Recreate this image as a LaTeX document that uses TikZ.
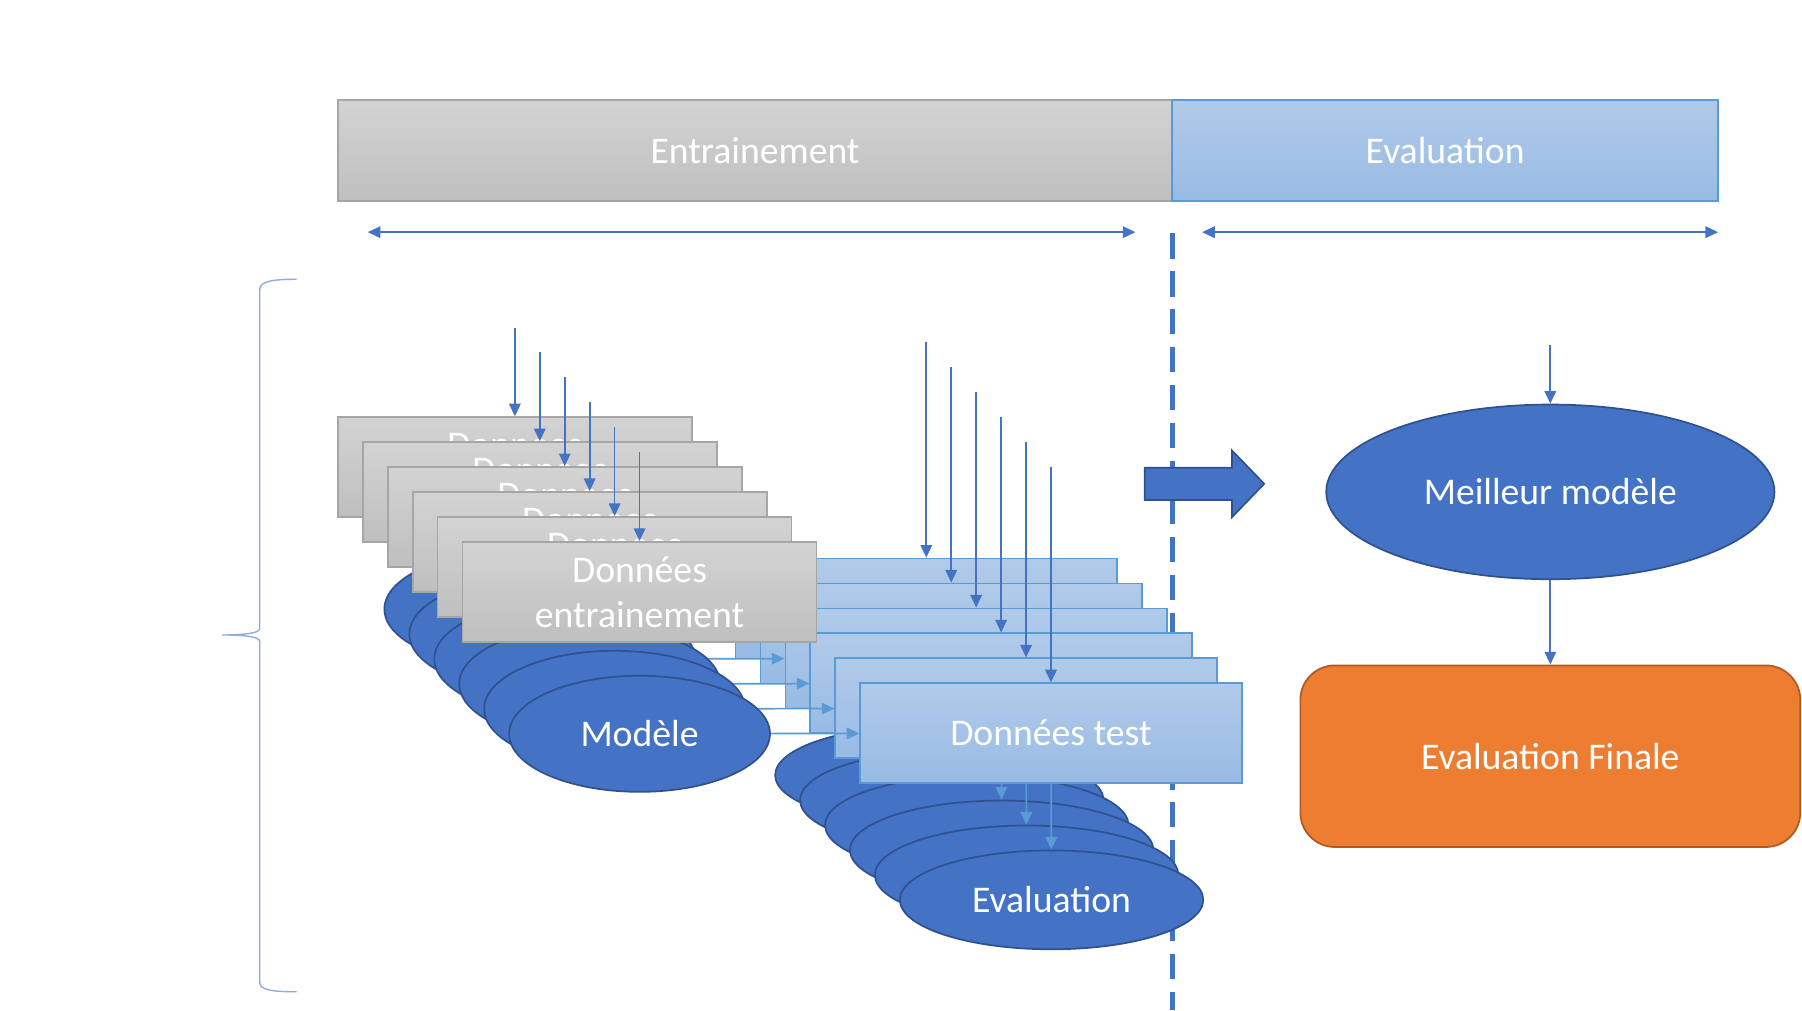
\documentclass[tikz,border=0pt]{standalone}
\usepackage{fontspec}
\setmainfont{Carlito}
\usetikzlibrary{positioning,arrows.meta,shapes.geometric}
\definecolor{boxblue}{HTML}{4472C4}
\definecolor{boxedge}{HTML}{2F528F}
\definecolor{lineblue}{HTML}{5B9BD5}
\definecolor{bracecol}{HTML}{8FAADC}
\definecolor{testtop}{HTML}{B1CAE9}
\definecolor{testbot}{HTML}{98BBE4}
\definecolor{traintop}{HTML}{D3D3D3}
\definecolor{trainbot}{HTML}{BFBFBF}
\definecolor{trainedge}{HTML}{A6A6A6}
\definecolor{finalfill}{HTML}{ED7D31}
\definecolor{finaledge}{HTML}{AE5A21}
\begin{document}
\begin{tikzpicture}[x=0.5pt, y=-0.5pt, on grid, node distance=15.344pt, line width=0.75pt,
    wtext/.style = {text=white, font=\fontsize{16.4}{19.5}\selectfont, align=center, inner sep=0pt},
    trainbox/.style = {wtext, draw=trainedge, top color=traintop, bottom color=trainbot, minimum width=154pt, minimum height=43.5pt},
    testbox/.style = {wtext, draw=lineblue, top color=testtop, bottom color=testbot, minimum width=166pt, minimum height=43.5pt},
    blob/.style = {wtext, ellipse, draw=boxedge, fill=boxblue},
    model/.style = {blob, minimum width=113.5pt, minimum height=50.5pt},
    scored/.style = {blob, minimum width=132pt, minimum height=43pt},
    feed/.style = {draw=boxblue, -{Triangle[width=5pt,length=5.5pt]}},
    pass/.style = {draw=lineblue, -{Triangle[width=5pt,length=5.5pt]}},
    spanarrow/.style = {draw=boxblue, {Triangle[width=5pt,length=5.5pt]}-{Triangle[width=5pt,length=5.5pt]}},
    split/.style = {draw=boxblue, line width=2pt, dash pattern=on 11pt off 5.5pt},
    curly/.style = {draw=bracecol, line width=0.6pt}]
    \path[use as bounding box, fill=white] (0,0) rectangle (1568,879);
    % phases
    \node[trainbox, minimum width=363pt, minimum height=44pt] (train) at (657,131) {Entrainement};
    \node[testbox, minimum width=237.5pt, minimum height=44pt] (evalp) [right=300.25pt of train] {Evaluation};
    \coordinate (s1) at (320,202);
    \coordinate (s2) at (988,202);
    \coordinate (s3) at (1046,202);
    \coordinate (s4) at (1495,202);
    \coordinate (cut1) at (1020,203);
    \coordinate (cut2) at (1020,879);
    \coordinate (br1) at (258,243);
    \coordinate (br2) at (258,863);
    \draw[spanarrow] (s1) -- (s2);
    \draw[spanarrow] (s3) -- (s4);
    \draw[split] (cut1) -- (cut2);
    \draw[curly] (br1) .. controls (236,243) and (226,245) .. (226,252) -- (226,547)
        .. controls (226,551) and (212,552.5) .. (193,552.5)
        .. controls (212,552.5) and (226,554) .. (226,558) -- (226,855)
        .. controls (226,861) and (236,863) .. (br2);
    % stack 1
    \node[model] (m1) at (448,530) {Modèle};
    \node[scored] (e1) at (806.5,674.5) {Evaluation};
    \node[testbox] (t1) at (806,529.5) {Données test};
    \node[trainbox] (d1) at (448,406.5) {Données\\entrainement};
    \coordinate (a1) at (448,285);
    \coordinate (b1) at (806,298);
    \path (a1) edge[feed] (d1) (b1) edge[feed] (t1);
    \path (m1) edge[pass] (t1) (t1) edge[pass] (e1);
    % stack 2
    \node[model] (m2) [below right=of m1] {Modèle};
    \node[scored] (e2) [below right=of e1] {Evaluation};
    \node[testbox] (t2) [below right=of t1] {Données test};
    \node[trainbox] (d2) [below right=of d1] {Données\\entrainement};
    \coordinate[below right=of a1] (a2);
    \coordinate[below right=of b1] (b2);
    \path (a2) edge[feed] (d2) (b2) edge[feed] (t2);
    \path (m2) edge[pass] (t2) (t2) edge[pass] (e2);
    % stack 3
    \node[model] (m3) [below right=of m2] {Modèle};
    \node[scored] (e3) [below right=of e2] {Evaluation};
    \node[testbox] (t3) [below right=of t2] {Données test};
    \node[trainbox] (d3) [below right=of d2] {Données\\entrainement};
    \coordinate[below right=of a2] (a3);
    \coordinate[below right=of b2] (b3);
    \path (a3) edge[feed] (d3) (b3) edge[feed] (t3);
    \path (m3) edge[pass] (t3) (t3) edge[pass] (e3);
    % stack 4
    \node[model] (m4) [below right=of m3] {Modèle};
    \node[scored] (e4) [below right=of e3] {Evaluation};
    \node[testbox] (t4) [below right=of t3] {Données test};
    \node[trainbox] (d4) [below right=of d3] {Données\\entrainement};
    \coordinate[below right=of a3] (a4);
    \coordinate[below right=of b3] (b4);
    \path (a4) edge[feed] (d4) (b4) edge[feed] (t4);
    \path (m4) edge[pass] (t4) (t4) edge[pass] (e4);
    % stack 5
    \node[model] (m5) [below right=of m4] {Modèle};
    \node[scored] (e5) [below right=of e4] {Evaluation};
    \node[testbox] (t5) [below right=of t4] {Données test};
    \node[trainbox] (d5) [below right=of d4] {Données\\entrainement};
    \coordinate[below right=of a4] (a5);
    \coordinate[below right=of b4] (b5);
    \path (a5) edge[feed] (d5) (b5) edge[feed] (t5);
    \path (m5) edge[pass] (t5) (t5) edge[pass] (e5);
    % stack 6
    \node[model] (m6) [below right=of m5] {Modèle};
    \node[scored] (e6) [below right=of e5] {Evaluation};
    \node[testbox] (t6) [below right=of t5] {Données test};
    \node[trainbox] (d6) [below right=of d5] {Données\\entrainement};
    \coordinate[below right=of a5] (a6);
    \coordinate[below right=of b5] (b6);
    \path (a6) edge[feed] (d6) (b6) edge[feed] (t6);
    \path (m6) edge[pass] (t6) (t6) edge[pass] (e6);
    % selection
    \draw[draw=boxedge, fill=boxblue] (996,407) -- (1072,407) -- (1072,392) -- (1100,421) -- (1072,450) -- (1072,435) -- (996,435) -- cycle;
    \node[blob, minimum width=195pt, minimum height=76pt] (best) at (1349,428) {Meilleur modèle};
    \node[wtext, draw=finaledge, fill=finalfill, rounded corners=15pt, minimum width=217.5pt, minimum height=79pt] (final) [below=115pt of best] {Evaluation Finale};
    \coordinate (c1) at (1349,300);
    \path (c1) edge[feed] (best) (best) edge[feed] (final);
\end{tikzpicture}
\end{document}
